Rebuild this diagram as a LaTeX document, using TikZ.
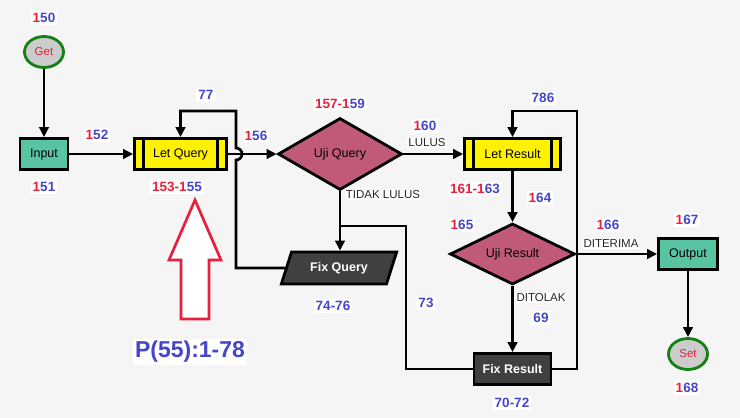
\documentclass[tikz,border=0pt]{standalone}
\usepackage{fontspec}
\setmainfont{Liberation Sans}
\usepackage{xcolor}
\definecolor{numRed}{HTML}{E8203C}
\definecolor{numBlue}{HTML}{4646C8}
\definecolor{colProc}{HTML}{58C4A4}
\definecolor{colDec}{HTML}{C05A78}
\definecolor{colFix}{HTML}{404040}
\definecolor{colTerm}{HTML}{128012}
\definecolor{colBack}{HTML}{F5F5F5}
\usetikzlibrary{arrows.meta, positioning, calc, shapes.geometric}

\newcommand{\twonum}[2]{\textcolor{numRed}{#1}\textcolor{numBlue}{#2}}

\tikzset{
	flow/.style={line width=2.7pt, -{Triangle[length=10pt,width=9.5pt]}},
	link/.style={line width=2.7pt},
	box/.style={rectangle, draw, line width=2.8pt, minimum height=31pt, inner sep=0pt, font=\fontsize{12.5}{14}\selectfont},
	io/.style={box, fill=colProc},
	sub/.style={box, fill=yellow, path picture={
		\draw[line width=2.2pt] ([xshift=9pt]path picture bounding box.north west) -- ([xshift=9pt]path picture bounding box.south west)
			([xshift=-9pt]path picture bounding box.north east) -- ([xshift=-9pt]path picture bounding box.south east);}},
	dec/.style={diamond, draw, fill=colDec, line width=2.8pt, inner sep=0pt, aspect=1.7, font=\fontsize{12.5}{14}\selectfont},
	fix/.style={box, fill=colFix, text=white, font=\fontsize{12.5}{14}\selectfont\bfseries},
	fixpar/.style={trapezium, trapezium left angle=62, trapezium right angle=118, trapezium stretches=true,
		draw, fill=colFix, line width=2.8pt, minimum width=116pt, minimum height=32pt, inner sep=0pt,
		text=white, font=\fontsize{12.5}{14}\selectfont\bfseries},
	term/.style={ellipse, draw=colTerm, line width=2.8pt, fill=gray!40, minimum width=39pt, minimum height=31pt,
		inner sep=0pt, text=numRed, font=\fontsize{11.5}{13}\selectfont},
	numlab/.style={fill=white, inner sep=2pt, text=numBlue, font=\fontsize{13.5}{15}\selectfont\bfseries},
	txtlab/.style={fill=white, inner sep=1pt, text=black!85, font=\fontsize{11.5}{13}\selectfont}
}

\begin{document}
\begin{tikzpicture}[x=1pt, y=-1pt]
	\fill[colBack] (0,0) rectangle (740,418);

	% nodes
	\node[term] (get) at (44,52) {Get};
	\node[io, minimum width=48pt] (input) at (44,154) {Input};
	\node[sub, minimum width=92pt] (letq) at (180.5,154) {Let Query};
	\node[dec, minimum width=124pt, minimum height=72pt] (ujiq) at (340,154) {Uji Query};
	\node[sub, minimum width=96pt] (letr) at (512.5,154) {Let Result};
	\node[dec, minimum width=125pt, minimum height=61pt] (ujir) at (512.5,254) {Uji Result};
	\node[io, minimum width=59pt] (output) at (688,254) {Output};
	\node[term] (set) at (688,354) {Set};
	\node[fixpar] (fixq) at (339,268) {Fix Query};
	\node[fix, minimum width=77pt] (fixr) at (512.5,369) {Fix Result};

	\coordinate (loopQ) at (236,111);
	\coordinate (loopR) at (577,111);
	\coordinate (bendQ) at (406,226);

	% connectors
	\draw[flow] (get) -- (input);
	\draw[flow] (input) -- (letq);
	\draw[flow] (letq) -- (ujiq);
	\draw[flow] (ujiq) -- (letr);
	\draw[flow] (letr) -- (ujir);
	\draw[flow] (ujir) -- (output);
	\draw[flow] (output) -- (set);
	\draw[flow] (ujir) -- (fixr);
	\draw[flow] (ujiq.south) -- (ujiq.south |- fixq.north);
	\draw[link] (fixr.west) -| (bendQ) -- (bendQ -| ujiq.south);
	\draw[flow] (fixr.east) -| (loopR) -| (letr.north);
	\draw[flow] (fixq.west) -| ($(loopQ |- letq.east)+(0,6)$) arc[start angle=90, end angle=-90, radius=6] -- (loopQ) -| (letq.north);

	% labels
	\node[numlab] at (44,18) {\twonum{1}{50}};
	\node[numlab] at (44,187) {\twonum{1}{51}};
	\node[numlab] at (97,135) {\twonum{1}{52}};
	\node[numlab] at (177,187) {\twonum{153-1}{55}};
	\node[numlab] at (206,95) {77};
	\node[numlab] at (256,136) {\twonum{1}{56}};
	\node[numlab] at (340,104) {\twonum{157-1}{59}};
	\node[numlab] at (425,126) {\twonum{1}{60}};
	\node[txtlab] at (427,143) {LULUS};
	\node[txtlab] at (383,195) {TIDAK LULUS};
	\node[numlab] at (475,189) {\twonum{161-1}{63}};
	\node[numlab] at (540,198) {\twonum{1}{64}};
	\node[numlab] at (462,225) {\twonum{1}{65}};
	\node[numlab] at (608,225) {\twonum{1}{66}};
	\node[txtlab] at (611,244) {DITERIMA};
	\node[numlab] at (687,220) {\twonum{1}{67}};
	\node[numlab] at (687,388) {\twonum{1}{68}};
	\node[numlab] at (543,98) {786};
	\node[txtlab] at (541,298) {DITOLAK};
	\node[numlab] at (541,318) {69};
	\node[numlab] at (333,306) {74-76};
	\node[numlab] at (426,303) {73};
	\node[numlab] at (512,403) {70-72};

	% pointer
	\draw[numRed, line width=2.7pt, fill=white] (195,200) -- (221,260) -- (209,260) -- (209,319) -- (181,319) -- (181,260) -- (169,260) -- cycle;
	\node[fill=white, inner sep=2pt, text=numBlue, font=\fontsize{23}{26}\selectfont\bfseries] (page) at (190,352) {P(55):1-78};
\end{tikzpicture}
\end{document}
